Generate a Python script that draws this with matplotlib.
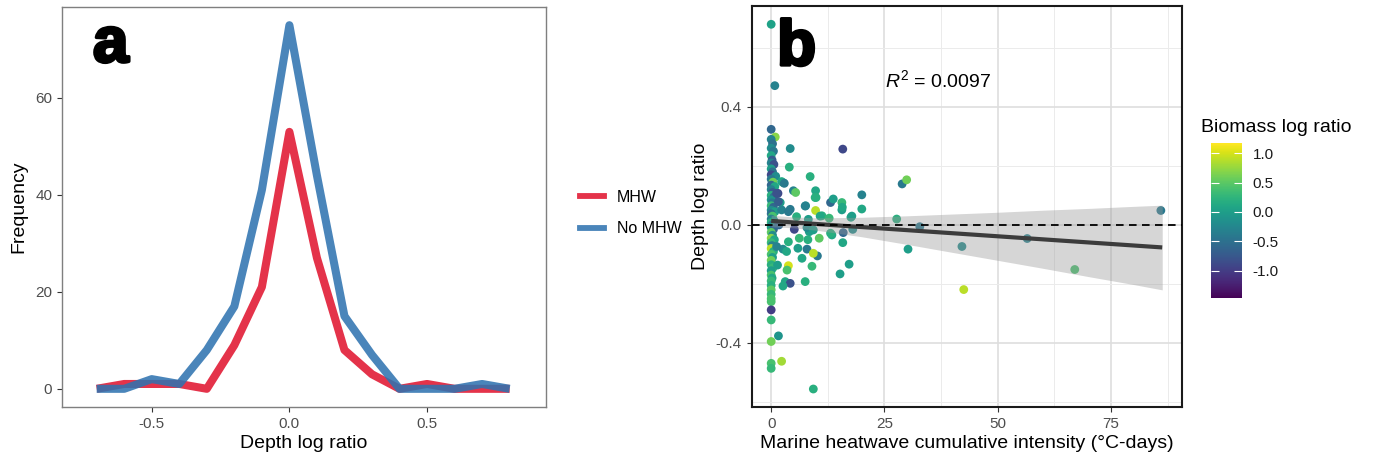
import numpy as np
import matplotlib
matplotlib.use("Agg")
import matplotlib.pyplot as plt
import matplotlib.patheffects as pe
from matplotlib.lines import Line2D

plt.rcParams['font.family'] = ['Liberation Sans', 'DejaVu Sans']
plt.rcParams['axes.unicode_minus'] = False
plt.rcParams['mathtext.fontset'] = 'custom'
plt.rcParams['mathtext.rm'] = 'Liberation Sans'
plt.rcParams['mathtext.it'] = 'Liberation Sans:italic'

# ---------------- Panel a data ----------------
bins_mid = [-0.7, -0.6, -0.5, -0.4, -0.3, -0.2, -0.1, 0.0, 0.1, 0.2, 0.3, 0.4, 0.5, 0.6, 0.7, 0.8]
freq_mhw = [0, 1, 1, 1, 0, 9, 21, 53, 27, 8, 3, 0, 1, 0, 0, 0]
freq_nomhw = [0, 0, 2, 1, 8, 17, 41, 75, 44, 15, 7, 0, 0, 0, 1, 0]
series_labels = ["MHW", "No MHW"]

# ---------------- Panel b data ----------------
# x: marine heatwave cumulative intensity, y: depth log ratio, c: biomass log ratio
mhw_x = [0.0, 0.9, 0.0, 0.3, 0.0, 0.5, 0.0, 0.2, 0.0, 0.6, 0.0, 0.3, 0.0, 1.0, 0.0, 0.4,
         0.0, 0.8, 0.0, 0.3, 0.0, 0.6, 0.0, 0.2, 0.0, 0.5, 0.0, 0.8, 0.0, 0.3, 0.0, 0.6,
         0.0, 0.2, 0.0, 0.5, 0.0, 0.3, 0.0, 0.7, 0.0, 0.2, 0.0, 0.5, 0.0, 0.3, 0.0, 0.0,
         0.4, 0.0, 0.0, 0.2, 0.0, 0.0, 0.0, 0.0, 0.0, 0.0, 0.0, 0.0, 0.0, 0.0, 0.0,
         0.0, 0.8, 4.2, 15.8, 4.0, 8.6, 4.9, 5.4, 9.8, 2.7, 1.5, 28.9, 29.9, 20.0, 13.1,
         13.7, 15.6, 7.6, 9.8, 4.2, 2.0, 20.0, 15.6, 17.6, 27.7, 32.8, 56.5, 86.0, 42.1,
         30.2, 5.1, 3.8, 6.2, 8.4, 10.6, 15.9, 13.4, 15.8, 18.0, 8.2, 11.2, 12.8, 5.9,
         2.6, 7.9, 10.2, 9.3, 6.8, 1.4, 3.8, 3.5, 9.0, 17.2, 15.2, 3.1, 4.2, 2.6, 7.5,
         42.5, 67.0, 1.6, 2.3, 9.3, 2.3, 2.9, 9.7, 1.6, 1.2, 7.5, 9.9, 15.7, 17.8, 2.3,
         3.8, 5.6, 10.8, 1.7, 7.9, 9.3, 13.1, 8.1, 1.2, 3.4]
depth_y = [0.324, 0.298, 0.29, 0.275, 0.26, 0.25, 0.235, 0.22, 0.21, 0.205, 0.19, 0.18,
           0.17, 0.165, 0.155, 0.145, 0.135, 0.13, 0.12, 0.11, 0.1, 0.095, 0.085, 0.075,
           0.065, 0.06, 0.05, 0.045, 0.038, 0.03, 0.02, 0.015, 0.008, 0.0, -0.008, -0.015,
           -0.025, -0.035, -0.045, -0.05, -0.06, -0.07, -0.08, -0.09, -0.1, -0.11, -0.12,
           -0.135, -0.145, -0.155, -0.17, -0.18, -0.19, -0.205, -0.22, -0.235, -0.25,
           -0.26, -0.288, -0.322, -0.395, -0.469, -0.486,
           0.68, 0.472, 0.259, 0.257, 0.196, 0.164, 0.116, 0.11, 0.116, 0.143, 0.107,
           0.139, 0.153, 0.102, 0.076, 0.088, 0.076, 0.065, 0.049, 0.053, 0.076, 0.054,
           0.051, 0.026, 0.02, -0.006, -0.046, 0.049, -0.073, -0.082, -0.015, -0.057,
           -0.045, -0.023, -0.045, -0.026, -0.034, -0.06, -0.015, 0.019, 0.031, 0.023,
           -0.079, -0.082, -0.082, -0.105, -0.096, -0.113, -0.136, -0.138, -0.153, -0.14,
           -0.133, -0.166, -0.192, -0.198, -0.207, -0.192, -0.219, -0.151, -0.376, -0.462,
           -0.556, 0.147, 0.141, 0.093, 0.079, 0.107, 0.064, 0.093, 0.06, 0.03, 0.051,
           0.045, 0.028, 0.03, 0.0, -0.009, -0.017, -0.028, -0.05, -0.073, -0.09]
biomass_c = [-0.6, 0.7, -0.3, -0.5, -0.2, -0.4, 0.1, -0.7, -0.3, -0.8, 0.0, -0.5, -0.9,
             -0.2, -0.4, 0.6, -0.6, 0.1, -0.3, -0.7, 0.2, -0.5, -0.1, -0.4, 0.3, -0.6,
             -0.2, 0.0, -0.5, 0.4, -0.3, -0.1, 0.2, -0.4, 0.0, -0.6, 0.5, -0.2, 0.7, 0.1,
             0.3, -0.3, 0.9, 0.2, 0.4, 0.0, 0.6, 0.2, 0.3, 0.0, 0.4, 0.1, 0.3, 0.2, 0.5,
             0.3, 0.4, 0.4, -1.0, 0.3, 0.6, 0.4, 0.3,
             0.05, -0.3, -0.2, -0.9, 0.2, 0.2, -0.3, 0.5, 0.1, 0.1, -0.9, -0.4, 0.6,
             -0.3, -0.6, 0.0, 0.3, -0.1, 0.9, -0.4, 0.0, 0.1, 0.0, 0.1, 0.2, -0.4, -0.3,
             -0.4, -0.2, 0.0, -0.9, 0.2, 0.3, 0.0, 0.5, -0.6, 0.1, 0.1, -0.2, 0.0, 0.2,
             0.3, 0.0, -0.2, -0.4, -0.4, 0.9, 0.1, 0.0, 1.0, 0.4, 0.3, 0.0, 0.0, 0.1,
             -0.8, 0.1, 0.2, 0.9, 0.4, -0.1, 0.8, 0.2, 0.1, -0.4, 0.2, -0.7, -0.8, -0.3,
             0.2, 0.1, 0.0, -0.3, -0.4, 0.2, 0.1, -0.6, -0.2, 0.0, 0.2, 0.2, -0.3, 0.1]

# fitted line and its 95% confidence band
fit_x = [0.0, 86.3]
fit_y = [0.0136, -0.0762]
band_x = [0, 5, 10, 20, 30, 40, 50, 60, 70, 80, 86.3]
band_lo = [-0.006, -0.010, -0.018, -0.040, -0.066, -0.093, -0.120, -0.147, -0.175, -0.202, -0.220]
band_hi = [0.033, 0.027, 0.024, 0.026, 0.031, 0.037, 0.043, 0.050, 0.056, 0.063, 0.067]
r2_text = r"$R^2$ = 0.0097"

W, H = 1383, 463
fig = plt.figure(figsize=(W / 100, H / 100), dpi=100)

def fx(px):
    return px / W

def fy(py):
    return 1 - py / H

tick_col = '#4D4D4D'

# ---------------- Panel a ----------------
axa = fig.add_axes([fx(62), fy(407), fx(545.7 - 62), (407 - 7) / H])
red = '#E0142F'
blue = '#2F73B0'
axa.plot(bins_mid, freq_mhw, color=red, lw=5.8, alpha=0.87, solid_joinstyle='round',
         solid_capstyle='butt', label=series_labels[0])
axa.plot(bins_mid, freq_nomhw, color=blue, lw=5.8, alpha=0.87, solid_joinstyle='round',
         solid_capstyle='butt', label=series_labels[1])
axa.set_xlim(-0.826, 0.931)
axa.set_ylim(-3.75, 78.75)
axa.set_xticks([-0.5, 0.0, 0.5])
axa.set_xticklabels(['-0.5', '0.0', '0.5'])
axa.set_yticks([0, 20, 40, 60])
axa.set_yticklabels(['0', '20', '40', '60'])
for s in axa.spines.values():
    s.set_color('#7F7F7F')
    s.set_linewidth(1.0)
axa.tick_params(axis='both', colors='#333333', labelcolor=tick_col, labelsize=11,
                length=3.5, width=0.8)
axa.set_xlabel('Depth log ratio', fontsize=14, labelpad=3)
axa.set_ylabel('Frequency', fontsize=14, labelpad=6)
axa.text(0.064, 0.863, 'a', transform=axa.transAxes, fontsize=46, fontweight='bold',
         ha='left', va='baseline',
         path_effects=[pe.withStroke(linewidth=2.4, foreground='black')])

handles = [Line2D([0], [0], color=red, lw=4.2, alpha=0.87),
           Line2D([0], [0], color=blue, lw=4.2, alpha=0.87)]
fig.legend(handles, series_labels, loc='center left',
           bbox_to_anchor=(fx(566), fy(213)), frameon=False, fontsize=11.5,
           handlelength=1.5, handletextpad=0.8, labelspacing=1.05)

# ---------------- Panel b ----------------
axb = fig.add_axes([fx(751.7), fy(407.3), fx(1181.7 - 751.7), (407.3 - 6) / H])
axb.set_axisbelow(True)
sc = axb.scatter(mhw_x, depth_y, c=biomass_c, cmap='viridis', vmin=-1.47, vmax=1.17,
                 s=40, linewidths=0, zorder=2)
axb.fill_between(band_x, band_lo, band_hi, color='#999999', alpha=0.4, linewidth=0, zorder=3)
axb.plot(fit_x, fit_y, color='#3C3C3C', lw=3.0, zorder=4, solid_capstyle='butt')
axb.axhline(0, color='black', lw=1.3, dashes=(4.2, 3.0), zorder=5)
axb.set_xlim(-4.3, 90.6)
axb.set_ylim(-0.618, 0.742)
axb.set_xticks([0, 25, 50, 75])
axb.set_xticklabels(['0', '25', '50', '75'])
axb.set_xticks([12.5, 37.5, 62.5, 87.5], minor=True)
axb.set_yticks([-0.4, 0.0, 0.4])
axb.set_yticklabels(['-0.4', '0.0', '0.4'])
axb.set_yticks([-0.6, -0.2, 0.2, 0.6], minor=True)
axb.grid(True, which='major', color='#DEDEDE', lw=1.2)
axb.grid(True, which='minor', color='#EBEBEB', lw=0.7)
axb.tick_params(axis='both', which='major', colors='#333333', labelcolor=tick_col,
                labelsize=11, length=3.5, width=0.8)
axb.tick_params(axis='both', which='minor', length=0)
for s in axb.spines.values():
    s.set_color('#1A1A1A')
    s.set_linewidth(1.5)
axb.set_xlabel('Marine heatwave cumulative intensity (°C-days)', fontsize=14, labelpad=3)
axb.set_ylabel('Depth log ratio', fontsize=14, labelpad=5)
axb.text(0.059, 0.853, 'b', transform=axb.transAxes, fontsize=46, fontweight='bold',
         ha='left', va='baseline', zorder=6,
         path_effects=[pe.withStroke(linewidth=2.4, foreground='black')])
axb.text(25.2, 0.467, r2_text, fontsize=14, ha='left', va='baseline', zorder=6)

# ---------------- Colorbar ----------------
cax = fig.add_axes([fx(1210.7), fy(298.3), fx(31), 155 / H])
cb = fig.colorbar(sc, cax=cax)
cb.outline.set_visible(False)
cb.set_ticks([-1.0, -0.5, 0.0, 0.5, 1.0])
cb.set_ticklabels(['-1.0', '-0.5', '0.0', '0.5', '1.0'])
cax.tick_params(axis='y', direction='in', left=True, right=True, color='white',
                length=6, width=0.8, labelsize=11, labelcolor='#1A1A1A', pad=8)
fig.text(fx(1201), fy(127), 'Biomass log ratio', fontsize=14, ha='left', va='center')

fig.savefig('out.png', dpi=100)
